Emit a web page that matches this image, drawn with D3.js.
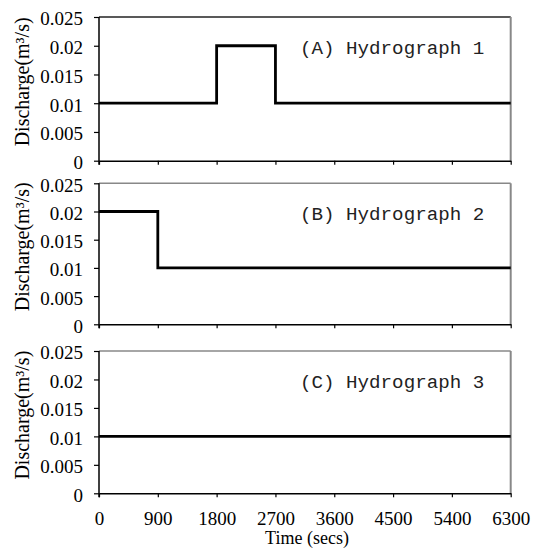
<!DOCTYPE html>
<html>
<head>
<meta charset="utf-8">
<script src="https://cdn.jsdelivr.net/npm/d3@7"></script>
<style>
  body { margin: 0; background: #fff; }
</style>
</head>
<body>
<svg id="chart" width="534" height="549"></svg>
<script>
(function() {
  'use strict';

  // data
  var timeTicks = [0, 900, 1800, 2700, 3600, 4500, 5400, 6300];
  var dischargeTicks = [0, 0.005, 0.01, 0.015, 0.02, 0.025];
  var panelTitles = ['(A) Hydrograph 1', '(B) Hydrograph 2', '(C) Hydrograph 3'];

  // step breakpoints (value holds until next time)
  var hydro1Time = [0, 1800, 2700, 6300];
  var hydro1Q = [0.01, 0.02, 0.01, 0.01];
  var hydro2Time = [0, 900, 6300];
  var hydro2Q = [0.02, 0.01, 0.01];
  var hydro3Time = [0, 6300];
  var hydro3Q = [0.01, 0.01];

  var series = [
    { t: hydro1Time, q: hydro1Q },
    { t: hydro2Time, q: hydro2Q },
    { t: hydro3Time, q: hydro3Q }
  ];

  var SERIF = '"Liberation Serif", "Times New Roman", "DejaVu Serif", serif';
  var MONO = '"Liberation Mono", "DejaVu Sans Mono", monospace';

  var svg = d3.select('#chart');
  var left = 99, right = 510.7;
  var tops = [17, 183.3, 351];
  var heights = [143.7, 141, 142.3];

  var x = d3.scaleLinear().domain([0, 6300]).range([left, right]);

  series.forEach(function(s, i) {
    var top = tops[i], h = heights[i];
    var y = d3.scaleLinear().domain([0, 0.025]).range([top + h, top]);
    var g = svg.append('g').attr('class', 'panel' + i);

    // top / right frame
    g.append('line')
      .attr('x1', left).attr('x2', right)
      .attr('y1', top).attr('y2', top)
      .attr('stroke', i === 0 ? '#222' : '#888').attr('stroke-width', 1.5);
    g.append('line')
      .attr('x1', right).attr('x2', right)
      .attr('y1', top).attr('y2', top + h)
      .attr('stroke', '#888').attr('stroke-width', 2);

    // y axis
    var yAxis = d3.axisLeft(y)
      .tickValues(dischargeTicks)
      .tickFormat(function(d) { return String(d); })
      .tickSizeInner(5).tickSizeOuter(0).tickPadding(11);
    var ya = g.append('g').attr('transform', 'translate(' + left + ',0)').call(yAxis);
    ya.attr('font-family', null).attr('font-size', null);
    ya.select('.domain').attr('stroke', '#000').attr('stroke-width', 1.5)
      .attr('d', 'M0,' + top + 'V' + (top + h + 4));
    ya.selectAll('.tick line').attr('stroke', '#000').attr('stroke-width', 1.2);
    ya.selectAll('.tick text')
      .style('font-family', SERIF).style('font-size', '19px')
      .attr('fill', '#000')
      .attr('dy', '0.42em');

    // x axis
    var xAxis = d3.axisBottom(x)
      .tickValues(timeTicks)
      .tickFormat(function(d) { return String(d); })
      .tickSizeInner(4).tickSizeOuter(0).tickPadding(14);
    var xa = g.append('g').attr('transform', 'translate(0,' + (top + h) + ')').call(xAxis);
    xa.attr('font-family', null).attr('font-size', null);
    xa.select('.domain').attr('stroke', '#000').attr('stroke-width', 1.5);
    xa.selectAll('.tick line').attr('stroke', '#000').attr('stroke-width', 1.2);
    xa.selectAll('.tick text')
      .style('font-family', SERIF).style('font-size', '19px')
      .attr('fill', '#000');
    if (i < 2) {
      xa.selectAll('.tick text').remove();
    }

    // hydrograph line
    var pts = s.t.map(function(t, k) { return [t, s.q[k]]; });
    var line = d3.line()
      .x(function(d) { return x(d[0]); })
      .y(function(d) { return y(d[1]); })
      .curve(d3.curveStepAfter);
    g.append('path')
      .datum(pts)
      .attr('d', line)
      .attr('fill', 'none')
      .attr('stroke', '#000')
      .attr('stroke-width', 2.8);

    // panel title
    g.append('text')
      .attr('x', 300).attr('y', top + 37)
      .style('font-family', MONO)
      .style('font-size', '19.2px')
      .style('white-space', 'pre')
      .attr('fill', '#222')
      .text(panelTitles[i]);

    // y label
    g.append('text')
      .attr('transform', 'translate(29,' + (top + h / 2 - 7) + ') rotate(-90)')
      .attr('text-anchor', 'middle')
      .style('font-family', SERIF)
      .style('font-size', '20px')
      .attr('fill', '#000')
      .text('Discharge(m³/s)');
  });

  svg.append('text')
    .attr('x', 307).attr('y', 544)
    .attr('text-anchor', 'middle')
    .style('font-family', SERIF)
    .style('font-size', '18px')
    .attr('fill', '#000')
    .text('Time (secs)');
}).call(this);
</script>
</body>
</html>
